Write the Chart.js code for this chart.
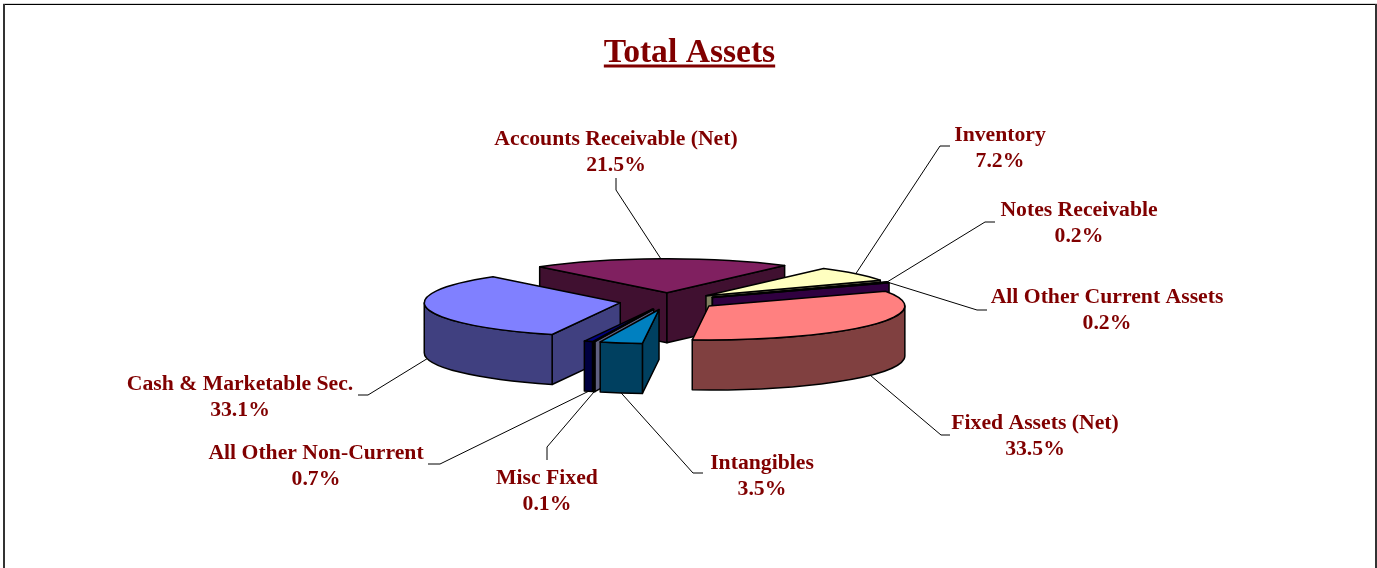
<!DOCTYPE html>
<html>
<head>
<meta charset="utf-8">
<style>
html,body{margin:0;padding:0;background:#fff;overflow:hidden}
#wrap{position:relative;width:1377px;height:568px}
canvas{display:block}
</style>
<script src="https://cdn.jsdelivr.net/npm/chart.js@4"></script>
</head>
<body>
<div id="wrap"><canvas id="c" width="1377" height="568"></canvas></div>
<script>
const categories = ['Accounts Receivable (Net)','Inventory','Notes Receivable','All Other Current Assets','Fixed Assets (Net)','Intangibles','Misc Fixed','All Other Non-Current','Cash & Marketable Sec.'];
const shares = [21.5,7.2,0.2,0.2,33.5,3.5,0.1,0.7,33.1];
const topColors = ['#802060','#FFFFC0','#A0E0E0','#600080','#FF8080','#0080C0','#C0C0FF','#000080','#8080FF'];
const wallColors = ['#401030','#808060','#507070','#300040','#804040','#004060','#606080','#000040','#404080'];
const chartTitle = 'Total Assets';

// layout only
const labelCenters = [[616,139],[1000,135],[1079,210],[1107,297],[1035,423],[762,463],[547,478],[316,453],[240,384]];
const leaderElbows = [[[616,190],[616,178]],[[940,146],[950,146]],[[985,222],[995,222]],[[977,310],[987,310]],[[941,435],[950,435]],[[693,473],[703,473]],[[547,447],[547,460]],[[440,464],[428,464]],[[368,395],[358,395]]];
const paintOrder = [0,1,2,3,4,8,7,6,5];
const startDeg = -40.5, pieRadius = 196, explode = 49, squash = 0.1735, depth = 50, shiftX = -21;
const labelFont = 'bold 21.7px "Liberation Serif"';
const titleFont = 'bold 33.6px "Liberation Serif"';

const pie3d = {
  id:'pie3d',
  afterDatasetsUpdate(chart){
    chart.getDatasetMeta(0).data.forEach(el=>{
      const mid=(el.startAngle+el.endAngle)/2;
      el.x += shiftX + explode*Math.cos(mid);
      el.y += explode*Math.sin(mid);
    });
  },
  beforeDatasetDraw(chart){
    const ctx=chart.ctx, ca=chart.chartArea, cy=(ca.top+ca.bottom)/2;
    const els=chart.getDatasetMeta(0).data;
    const sq=()=>{ctx.translate(0,cy);ctx.scale(1,squash);ctx.translate(0,-cy);};
    const sy=y=>cy+(y-cy)*squash;
    const pt=(el,a)=>[el.x+el.outerRadius*Math.cos(a), sy(el.y+el.outerRadius*Math.sin(a))];
    ctx.lineJoin='round';
    ctx.strokeStyle='#000';
    ctx.lineWidth=1.5;
    const face=(el,a,col)=>{
      const p=pt(el,a), ay=sy(el.y);
      ctx.beginPath();
      ctx.moveTo(el.x,ay);ctx.lineTo(p[0],p[1]);ctx.lineTo(p[0],p[1]+depth);ctx.lineTo(el.x,ay+depth);ctx.closePath();
      ctx.fillStyle=col;ctx.fill();ctx.stroke();
    };
    paintOrder.forEach(i=>{
      const el=els[i], col=wallColors[i], a0=el.startAngle, a1=el.endAngle;
      if(Math.cos(a0)<0) face(el,a0,col);
      if(Math.cos(a1)>0) face(el,a1,col);
      const r0=Math.max(a0,0), r1=Math.min(a1,Math.PI);
      if(r1>r0){
        ctx.save();
        ctx.beginPath();
        ctx.save();sq();ctx.arc(el.x,el.y,el.outerRadius,r0,r1);ctx.restore();
        ctx.save();ctx.translate(0,depth);sq();ctx.arc(el.x,el.y,el.outerRadius,r1,r0,true);ctx.restore();
        ctx.closePath();
        ctx.fillStyle=col;ctx.fill();ctx.stroke();
        ctx.restore();
      }
      ctx.save();sq();el.draw(ctx);ctx.restore();
      ctx.beginPath();
      ctx.save();sq();ctx.moveTo(el.x,el.y);ctx.arc(el.x,el.y,el.outerRadius,a0,a1);ctx.closePath();ctx.restore();
      ctx.stroke();
    });
    return false;
  },
  afterDraw(chart){
    const ctx=chart.ctx, ca=chart.chartArea, cy=(ca.top+ca.bottom)/2;
    const els=chart.getDatasetMeta(0).data;
    ctx.save();
    // frame
    ctx.fillStyle='#d4d4d4';ctx.fillRect(3,3,1374,1);
    ctx.fillStyle='#000';ctx.fillRect(3,4,1374,1);
    ctx.fillStyle='#333';ctx.fillRect(3,4,2,564);ctx.fillRect(1375,4,2,564);
    // title underline
    const t=chart.titleBlock;
    ctx.font=titleFont;
    const tw=ctx.measureText(chartTitle).width, tc=(t.left+t.right)/2;
    ctx.fillStyle='#800000';
    ctx.fillRect(tc-tw/2,64.5,tw,3);
    // leaders
    ctx.strokeStyle='#000';ctx.lineWidth=1;
    els.forEach((el,i)=>{
      const m=(el.startAngle+el.endAngle)/2;
      const x=el.x+el.outerRadius*Math.cos(m);
      const y=cy+(el.y-cy+el.outerRadius*Math.sin(m))*squash+(Math.sin(m)>0?depth:0);
      ctx.beginPath();ctx.moveTo(x,y);
      leaderElbows[i].forEach(p=>ctx.lineTo(p[0],p[1]));
      ctx.stroke();
    });
    // labels
    ctx.font=labelFont;ctx.fillStyle='#800000';ctx.textAlign='center';ctx.textBaseline='middle';
    categories.forEach((c,i)=>{
      const [x,y]=labelCenters[i];
      ctx.fillText(c,x,y);
      ctx.fillText(shares[i].toFixed(1)+'%',x,y+26);
    });
    ctx.restore();
  }
};

new Chart(document.getElementById('c'),{
  type:'pie',
  data:{labels:categories,datasets:[{data:shares,backgroundColor:topColors,borderWidth:0}]},
  options:{
    responsive:false,animation:false,events:[],
    rotation:startDeg,radius:pieRadius,
    layout:{padding:{top:0,left:2,right:0,bottom:42}},
    plugins:{
      legend:{display:false},tooltip:{enabled:false},
      title:{display:true,text:chartTitle,color:'#800000',
        font:{family:'"Liberation Serif"',size:33.6,weight:'bold'},
        padding:{top:33,bottom:3}}
    }
  },
  plugins:[pie3d]
});
</script>
</body>
</html>
